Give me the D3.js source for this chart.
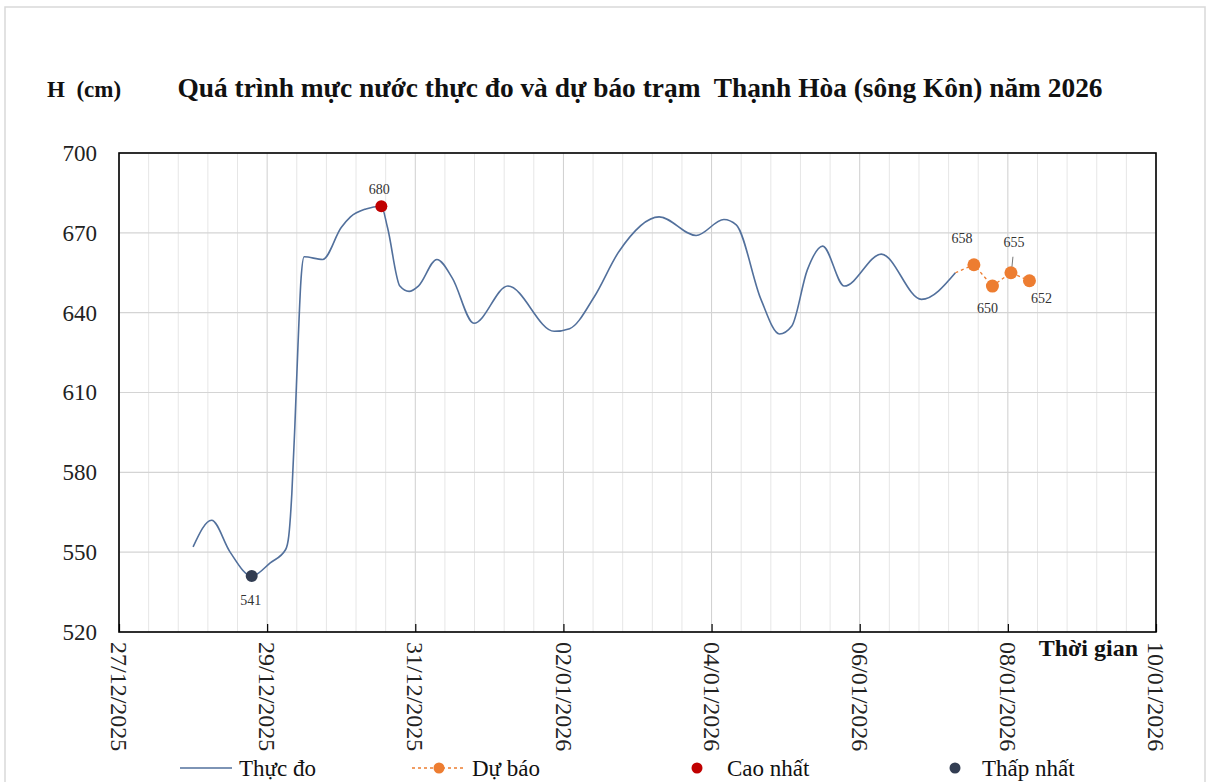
<!DOCTYPE html>
<html lang="vi">
<head>
<meta charset="UTF-8">
<title>Mực nước Thạnh Hòa</title>
<script src="https://cdnjs.cloudflare.com/ajax/libs/d3/7.8.5/d3.min.js"></script>
<style>
  body { margin: 0; background: #fff; }
  svg text { font-family: "Liberation Serif", "Times New Roman", serif !important; }
</style>
</head>
<body>
<svg id="vis" width="1211" height="782"></svg>
<script>
// số liệu thực đo (giờ, cm)
var obsTimes = [
  "2025-12-28T00:00", "2025-12-28T06:00", "2025-12-28T12:00", "2025-12-28T19:00",
  "2025-12-29T01:00", "2025-12-29T06:00", "2025-12-29T07:00", "2025-12-29T08:00",
  "2025-12-29T09:00", "2025-12-29T10:00", "2025-12-29T11:00", "2025-12-29T12:00",
  "2025-12-29T18:00", "2025-12-30T00:00", "2025-12-30T03:00", "2025-12-30T08:00",
  "2025-12-30T13:00", "2025-12-30T15:00", "2025-12-30T19:00", "2025-12-30T22:00",
  "2025-12-31T01:00", "2025-12-31T07:00", "2025-12-31T12:00", "2025-12-31T19:00",
  "2026-01-01T06:00", "2026-01-01T21:00", "2026-01-02T02:00", "2026-01-02T10:00",
  "2026-01-02T18:00", "2026-01-03T07:00", "2026-01-03T19:00", "2026-01-04T04:00",
  "2026-01-04T08:00", "2026-01-04T16:00", "2026-01-04T22:00", "2026-01-05T02:00",
  "2026-01-05T07:00", "2026-01-05T12:00", "2026-01-05T19:00", "2026-01-06T07:00",
  "2026-01-06T20:00", "2026-01-07T07:00"
];
var obsValues = [
  552, 562, 550, 541,
  546, 551, 556, 572,
  598, 628, 653, 661,
  660, 672, 676, 679,
  680, 672, 650, 648,
  650, 660, 653, 636,
  650, 633, 634, 646,
  663, 676, 669, 675,
  673, 645, 632, 635,
  656, 665, 650, 662,
  645, 655
];

// dự báo
var fcTimes = ["2026-01-07T07:00", "2026-01-07T13:00", "2026-01-07T19:00", "2026-01-08T01:00", "2026-01-08T07:00"];
var fcValues = [655, 658, 650, 655, 652];

var maxTime = "2025-12-30T13:00", maxValue = 680;
var minTime = "2025-12-28T19:00", minValue = 541;

var yTicks = [520, 550, 580, 610, 640, 670, 700];
var xTickLabels = ["27/12/2025", "29/12/2025", "31/12/2025", "02/01/2026", "04/01/2026", "06/01/2026", "08/01/2026", "10/01/2026"];
var legendLabels = ["Thực đo", "Dự báo", "Cao nhất", "Thấp nhất"];

var titleText = "Quá trình mực nước thực đo và dự báo trạm  Thạnh Hòa (sông Kôn) năm 2026";

var parse = d3.timeParse("%Y-%m-%dT%H:%M");
var obs = obsTimes.map(function(t, i){ return {t: parse(t), v: obsValues[i]}; });
var fc = fcTimes.map(function(t, i){ return {t: parse(t), v: fcValues[i]}; });

var svg = d3.select("#vis");
var pLeft = 119, pRight = 1156, pTop = 153, pBottom = 632;

var x = d3.scaleTime()
  .domain([parse("2025-12-27T00:00"), parse("2026-01-10T00:00")])
  .range([pLeft, pRight]);
var y = d3.scaleLinear().domain([520, 700]).range([pBottom, pTop]);

// khung ngoài
svg.append("rect").attr("x", 5).attr("y", 7).attr("width", 1200).attr("height", 800)
  .attr("fill", "none").attr("stroke", "#d9d9d9").attr("stroke-width", 1.5);

// lưới dọc phụ (5 khoảng trong 2 ngày)
var minor = [];
for (var k = 0; k <= 35; k++) minor.push(new Date(x.domain()[0].getTime() + k * 0.4 * 864e5));
svg.append("g").selectAll("line").data(minor).join("line")
  .attr("x1", function(d){ return x(d); }).attr("x2", function(d){ return x(d); })
  .attr("y1", pTop).attr("y2", pBottom)
  .attr("stroke", function(d, i){ return i % 5 === 0 ? "#cfcfcf" : "#e6e6e6"; })
  .attr("stroke-width", 1);

// lưới ngang
svg.append("g").selectAll("line").data(yTicks).join("line")
  .attr("x1", pLeft).attr("x2", pRight)
  .attr("y1", function(d){ return y(d); }).attr("y2", function(d){ return y(d); })
  .attr("stroke", "#d4d4d4").attr("stroke-width", 1.2);

// trục Y
var yAxis = d3.axisLeft(y).tickValues(yTicks).tickSize(0).tickPadding(22);
var gy = svg.append("g").attr("transform", "translate(" + pLeft + ",0)").call(yAxis);
gy.attr("font-family", null);
gy.select(".domain").remove();
gy.selectAll("text").attr("font-size", 23).attr("fill", "#222");

// trục X
var xTickDates = xTickLabels.map(function(s){ return d3.timeParse("%d/%m/%Y")(s); });
var xAxis = d3.axisBottom(x).tickValues(xTickDates).tickSizeInner(-8).tickSizeOuter(0)
  .tickFormat(function(d, i){ return xTickLabels[i]; });
var gx = svg.append("g").attr("transform", "translate(0," + pBottom + ")").call(xAxis);
gx.attr("font-family", null);
gx.select(".domain").remove();
gx.selectAll("line").attr("stroke", "#000").attr("stroke-width", 1.2);
gx.selectAll("text")
  .attr("font-size", 24).attr("fill", "#222")
  .attr("text-anchor", "start")
  .attr("transform", "rotate(90)")
  .attr("x", 10).attr("y", 0).attr("dy", "0.35em");

// khung vùng vẽ
svg.append("rect").attr("x", pLeft).attr("y", pTop)
  .attr("width", pRight - pLeft).attr("height", pBottom - pTop)
  .attr("fill", "none").attr("stroke", "#000").attr("stroke-width", 1.6);

// đường thực đo
var line = d3.line().x(function(d){ return x(d.t); }).y(function(d){ return y(d.v); })
  .curve(d3.curveMonotoneX);
svg.append("path").datum(obs).attr("d", line)
  .attr("fill", "none").attr("stroke", "#52709c").attr("stroke-width", 1.6);

// đường dự báo
var fcLine = d3.line().x(function(d){ return x(d.t); }).y(function(d){ return y(d.v); });
svg.append("path").datum(fc).attr("d", fcLine)
  .attr("fill", "none").attr("stroke", "#ed7d31").attr("stroke-width", 1.3)
  .attr("stroke-dasharray", "3,3");
svg.append("g").selectAll("circle").data(fc.slice(1)).join("circle")
  .attr("cx", function(d){ return x(d.t); }).attr("cy", function(d){ return y(d.v); })
  .attr("r", 6.5).attr("fill", "#ed7d31");

// nhãn dự báo
var fcDx = [-12, -5, 3, 12], fcDy = [-22, 27, -26, 22];
svg.append("g").selectAll("text").data(fc.slice(1)).join("text")
  .attr("x", function(d, i){ return x(d.t) + fcDx[i]; })
  .attr("y", function(d, i){ return y(d.v) + fcDy[i]; })
  .attr("text-anchor", "middle").attr("font-size", 14).attr("fill", "#333")
  .text(function(d){ return d.v; });
svg.append("line")
  .attr("x1", x(fc[3].t) + 1).attr("x2", x(fc[3].t) + 2)
  .attr("y1", y(fc[3].v) - 6).attr("y2", y(fc[3].v) - 16)
  .attr("stroke", "#777").attr("stroke-width", 1);

// cao nhất / thấp nhất
var tMax = parse(maxTime), tMin = parse(minTime);
svg.append("circle").attr("cx", x(tMax)).attr("cy", y(maxValue)).attr("r", 6).attr("fill", "#c00000");
svg.append("text").attr("x", x(tMax) - 2).attr("y", y(maxValue) - 12)
  .attr("text-anchor", "middle").attr("font-size", 14).attr("fill", "#333").text(maxValue);
svg.append("circle").attr("cx", x(tMin)).attr("cy", y(minValue)).attr("r", 6).attr("fill", "#323d52");
svg.append("text").attr("x", x(tMin) - 1).attr("y", y(minValue) + 29)
  .attr("text-anchor", "middle").attr("font-size", 14).attr("fill", "#333").text(minValue);

// tiêu đề
svg.append("text").attr("x", 640).attr("y", 97).attr("text-anchor", "middle")
  .attr("font-size", 27.4).attr("font-weight", "bold").attr("fill", "#111")
  .style("white-space", "pre").text(titleText);
svg.append("text").attr("x", 47).attr("y", 97)
  .attr("font-size", 23).attr("font-weight", "bold").attr("fill", "#111")
  .style("white-space", "pre").text("H  (cm)");
svg.append("text").attr("x", 1138).attr("y", 656).attr("text-anchor", "end")
  .attr("font-size", 24).attr("font-weight", "bold").attr("fill", "#111").text("Thời gian");

// chú giải
var lg = svg.append("g").attr("transform", "translate(0,768)");
lg.append("line").attr("x1", 180).attr("x2", 232).attr("y1", 0).attr("y2", 0)
  .attr("stroke", "#52709c").attr("stroke-width", 1.6);
lg.append("line").attr("x1", 412).attr("x2", 466).attr("y1", 0).attr("y2", 0)
  .attr("stroke", "#ed7d31").attr("stroke-width", 1.3).attr("stroke-dasharray", "3,3");
lg.append("circle").attr("cx", 439).attr("cy", 0).attr("r", 5.5).attr("fill", "#ed7d31");
lg.append("circle").attr("cx", 697).attr("cy", 0).attr("r", 5.5).attr("fill", "#c00000");
lg.append("circle").attr("cx", 955).attr("cy", 0).attr("r", 5.5).attr("fill", "#323d52");
var lgX = [239, 472, 727, 982];
lg.selectAll("text.lbl").data(legendLabels).join("text").attr("class", "lbl")
  .attr("x", function(d, i){ return lgX[i]; }).attr("y", 0).attr("dy", "0.35em")
  .attr("font-size", 23).attr("fill", "#111").text(function(d){ return d; });
</script>
</body>
</html>
